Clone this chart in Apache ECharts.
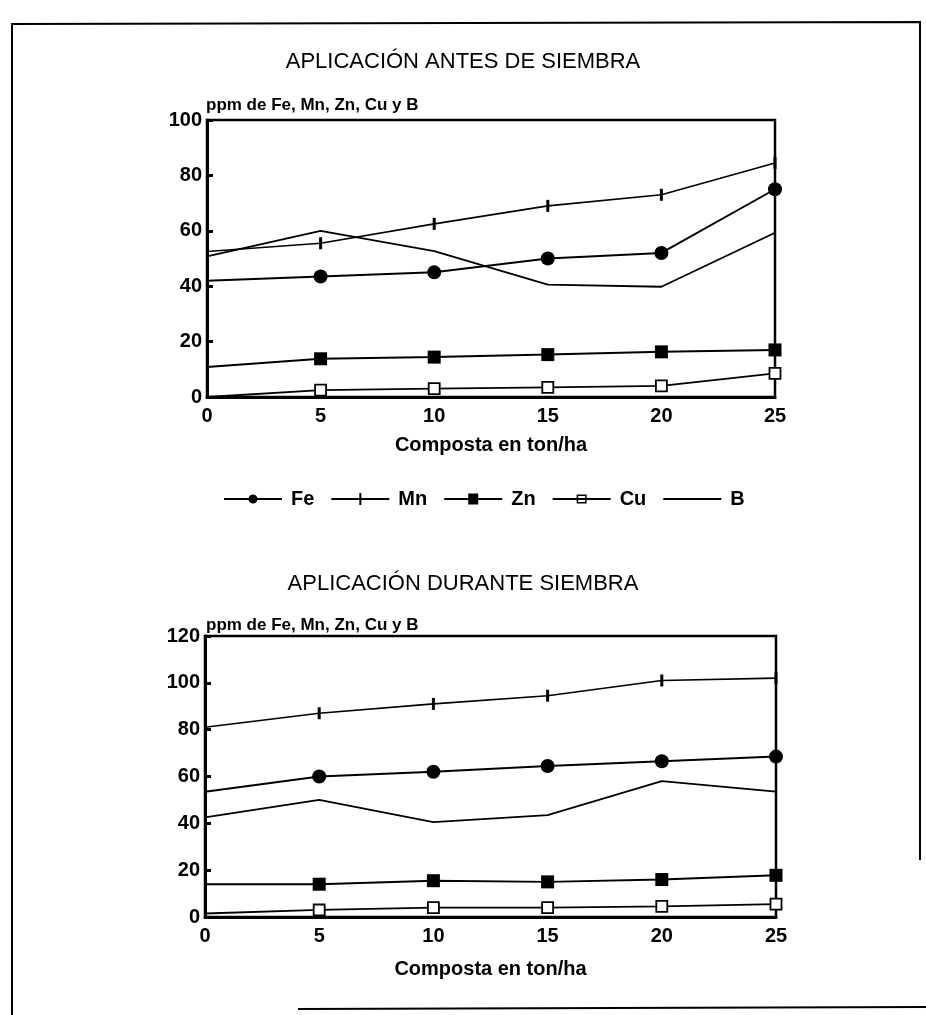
<!DOCTYPE html>
<html>
<head>
<meta charset="utf-8">
<script src="https://cdn.jsdelivr.net/npm/echarts@6/dist/echarts.min.js"></script>
<style>html,body{margin:0;padding:0;background:#fff}#c{width:926px;height:1015px}</style>
</head>
<body>
<div id="c"></div>
<script>
// ---- data ----
const dose = [0, 5, 10, 15, 20, 25];
const xTicks = [0, 5, 10, 15, 20, 25];
// Aplicación antes de siembra
const feAntes = [42, 43.5, 45, 50, 52, 75];
const mnAntes = [52.5, 55.5, 62.5, 69, 73, 84.5];
const znAntes = [10.8, 13.8, 14.4, 15.3, 16.3, 17];
const cuAntes = [0, 2.5, 3, 3.5, 4, 8.5];
const bAntes  = [50.8, 60, 52.7, 40.6, 39.8, 59.3];
// Aplicación durante siembra
const feDurante = [53.5, 60, 62, 64.5, 66.5, 68.5];
const mnDurante = [81, 87, 91, 94.5, 101, 102];
const znDurante = [14, 14, 15.5, 15, 16, 17.8];
const cuDurante = [1.5, 3, 4, 4, 4.5, 5.5];
const bDurante  = [42.5, 50, 40.5, 43.5, 58, 53.5];

const titleAntes = 'APLICACIÓN ANTES DE SIEMBRA';
const titleDurante = 'APLICACIÓN DURANTE SIEMBRA';
const yName = 'ppm de Fe, Mn, Zn, Cu y B';
const xName = 'Composta en ton/ha';
const names = ['Fe', 'Mn', 'Zn', 'Cu', 'B'];

const FONT = "'Liberation Sans', Arial, sans-serif";
const chart = echarts.init(document.getElementById('c'));

function pts(vals) {
  return vals.map((v, i) => i === 0 ? { value: [dose[i], v], symbolSize: 0 } : [dose[i], v]);
}
const styles = {
  Fe: { symbol: 'circle', symbolSize: 14, lw: 2, item: { color: '#000' } },
  Mn: { symbol: 'path://M-1,-6L1,-6L1,6L-1,6Z', symbolSize: [3, 12], lw: 1.6, item: { color: '#000' } },
  Zn: { symbol: 'rect', symbolSize: 13, lw: 2, item: { color: '#000' } },
  Cu: { symbol: 'rect', symbolSize: 11, lw: 1.8, item: { color: '#fff', borderColor: '#000', borderWidth: 1.8 } },
  B:  { symbol: 'none', symbolSize: 0, lw: 1.8, item: { color: '#000' } }
};
function mk(name, vals, idx) {
  const s = styles[name];
  return {
    name, type: 'line', xAxisIndex: idx, yAxisIndex: idx,
    data: pts(vals), symbol: s.symbol, symbolSize: s.symbolSize,
    showSymbol: s.symbol !== 'none', silent: true, animation: false,
    lineStyle: { color: '#000', width: s.lw }, itemStyle: s.item, z: name === 'Cu' ? 3 : 2
  };
}

// legend icons: line + marker, drawn in a 58 x 14 box (corner moves fix the box)
const BOX = 'M0,0M58,14';
function seg(a, b) { return 'M' + a + ',6L' + b + ',6L' + b + ',8L' + a + ',8Z'; }
const legendIcons = {
  Fe: 'path://' + BOX + seg(0, 25) + seg(33, 58) + 'M24.5,7A4.5,4.5 0 1,1 33.5,7A4.5,4.5 0 1,1 24.5,7Z',
  Mn: 'path://' + BOX + seg(0, 28) + seg(30, 58) + 'M28,1L30,1L30,13L28,13Z',
  Zn: 'path://' + BOX + seg(0, 24) + seg(34, 58) + 'M24,1.5L34,1.5L34,12.5L24,12.5Z',
  Cu: 'path://' + BOX + seg(0, 24) + seg(34, 58) + seg(25.5, 32.5) +
      'M24,2.5L34,2.5L34,4L24,4ZM24,10L34,10L34,11.5L24,11.5ZM24,2.5L25.5,2.5L25.5,11.5L24,11.5ZM32.5,2.5L34,2.5L34,11.5L32.5,11.5Z',
  B:  'path://' + BOX + seg(0, 58)
};

const axisCommonX = (idx) => ({
  type: 'value', min: 0, max: 25, interval: 5, gridIndex: idx,
  name: xName, nameLocation: 'middle', nameGap: 38,
  nameTextStyle: { fontFamily: FONT, fontSize: 20, fontWeight: 'bold', color: '#000' },
  axisLine: { show: true, lineStyle: { color: '#000', width: 3 } },
  axisTick: { show: false }, splitLine: { show: false },
  axisLabel: { fontFamily: FONT, fontSize: 20, fontWeight: 'bold', color: '#000', margin: 9,
    customValues: xTicks }
});
const axisCommonY = (idx, max) => ({
  type: 'value', min: 0, max: max, interval: 20, gridIndex: idx,
  axisLine: { show: true, lineStyle: { color: '#000', width: 3 } },
  axisTick: { show: true, inside: true, length: 6, lineStyle: { color: '#000', width: 3 } },
  splitLine: { show: false },
  axisLabel: { fontFamily: FONT, fontSize: 20, fontWeight: 'bold', color: '#000', margin: 5 }
});

chart.setOption({
  animation: false,
  title: [
    { text: titleAntes, left: 'center', top: 46, textStyle: { fontFamily: FONT, fontSize: 22, fontWeight: 'normal', color: '#000' } },
    { text: yName, left: 201, top: 92, textStyle: { fontFamily: FONT, fontSize: 17, fontWeight: 'bold', color: '#000' } },
    { text: titleDurante, left: 'center', top: 568, textStyle: { fontFamily: FONT, fontSize: 22, fontWeight: 'normal', color: '#000' } },
    { text: yName, left: 201, top: 612, textStyle: { fontFamily: FONT, fontSize: 17, fontWeight: 'bold', color: '#000' } }
  ],
  legend: {
    top: 489, left: 224, itemWidth: 58, itemHeight: 14, itemGap: 17, padding: 0,
    selectedMode: false,
    data: names.map(n => ({ name: n, icon: legendIcons[n], itemStyle: { color: '#000', borderWidth: 0 } })),
    textStyle: { fontFamily: FONT, fontSize: 20, fontWeight: 'bold', color: '#000', padding: [0, 0, 0, 4] }
  },
  grid: [
    { left: 207, width: 568, top: 120, height: 277, show: true, borderColor: '#000', borderWidth: 2.5, backgroundColor: 'transparent' },
    { left: 205, width: 571, top: 636, height: 281, show: true, borderColor: '#000', borderWidth: 2.5, backgroundColor: 'transparent' }
  ],
  xAxis: [axisCommonX(0), Object.assign(axisCommonX(1), { nameGap: 42 })],
  yAxis: [axisCommonY(0, 100), axisCommonY(1, 120)],
  series: [
    mk('B', bAntes, 0), mk('Fe', feAntes, 0), mk('Mn', mnAntes, 0), mk('Zn', znAntes, 0), mk('Cu', cuAntes, 0),
    mk('B', bDurante, 1), mk('Fe', feDurante, 1), mk('Mn', mnDurante, 1), mk('Zn', znDurante, 1), mk('Cu', cuDurante, 1)
  ],
  graphic: [
    { type: 'polyline', shape: { points: [[12, 1015], [12, 24], [920, 22], [920, 860]] }, style: { stroke: '#000', lineWidth: 2, fill: null }, silent: true },
    { type: 'line', shape: { x1: 298, y1: 1009, x2: 926, y2: 1007 }, style: { stroke: '#000', lineWidth: 2 }, silent: true }
  ]
});
</script>
</body>
</html>
